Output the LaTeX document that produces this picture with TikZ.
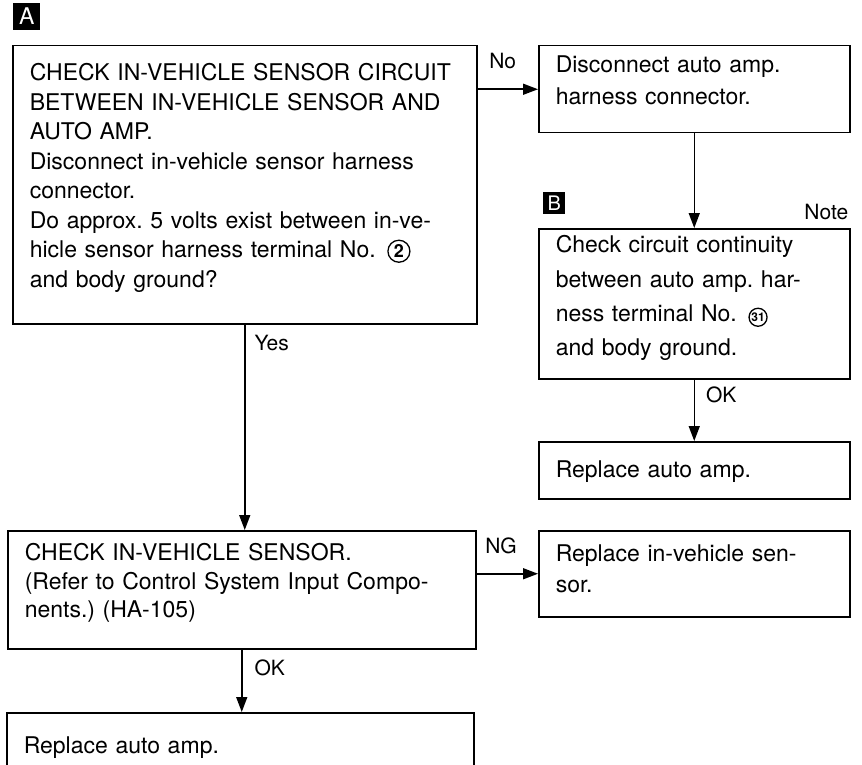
\documentclass[tikz,border=0pt]{standalone}
\usepackage{fontspec}
\setmainfont{TeX Gyre Heros}
\usepackage{tikz}
\usetikzlibrary{arrows.meta, positioning}
\frenchspacing
\newcommand{\circno}[3]{\tikz[baseline=(cn.base)]\node[draw, circle, line width=1.3pt, inner sep=0pt, anchor=center, text width=, text height=, text depth=, minimum size=#1pt, font=\bfseries\fontsize{#2}{#2}\selectfont] (cn) {#3};}

\begin{document}
\begin{tikzpicture}[x=1pt, y=-1pt,
  st/.style n args={4}{draw, line width=1.5pt, anchor=north west, align=left,
    inner xsep=17pt, inner ysep=0pt, text width=#1pt-34pt,
    text height=#3pt, text depth=#2pt-#3pt, font=\fontsize{23}{#4}\selectfont},
  lbl/.style={inner sep=2pt, font=\fontsize{21}{24}\selectfont},
  tag/.style={fill=black, text=white, inner sep=0pt, anchor=south west},
  arr/.style={-{Triangle[length=15pt, width=11pt]}, line width=1.5pt},
]
\useasboundingbox (0,0) rectangle (862,765);
\clip (0,0) rectangle (862,765);

\node[st={464}{278}{35}{29.5}] (chkckt) at (12,45) {CHECK IN-VEHICLE SENSOR CIRCUIT\\BETWEEN IN-VEHICLE SENSOR AND\\AUTO AMP.\\Disconnect in-vehicle sensor harness\\connector.\\Do approx. 5 volts exist between in-ve-\\hicle sensor harness terminal No.\ \,\circno{22}{18}{2}\\and body ground?};
\node[st={311}{87}{27}{31.7}] (discamp) at (538,45) {Disconnect auto amp.\\harness connector.};
\node[st={311}{150}{24}{34.4}] (contin) at (538,228) {Check circuit continuity\\between auto amp. har-\\ness terminal No.\ \,\circno{18}{12}{31}\\and body ground.};
\node[st={311}{57}{36}{30}] (repamp1) at (538,441) {Replace auto amp.};
\node[st={468}{118}{30}{28.3}] (chksens) at (7,530) {CHECK IN-VEHICLE SENSOR.\\(Refer to Control System Input Compo-\\nents.) (HA-105)};
\node[st={311}{86}{31}{31}] (repsens) at (538,530) {Replace in-vehicle sen-\\sor.};
\node[st={467}{72}{41}{30}] (repamp2) at (6,712) {Replace auto amp.};

\node[tag, minimum size=27pt, font=\fontsize{23}{23}\selectfont, above right=15pt and 1pt of chkckt.north west] (tagA) {A};
\node[tag, minimum size=22pt, font=\fontsize{20}{20}\selectfont, above right=14pt and 5pt of contin.north west] (tagB) {B};
\node[lbl, above left=6pt and 0pt of contin.north east] (note) {Note};

\draw[arr] (chkckt.east |- discamp.west) -- node[lbl, pos=0, anchor=south west, xshift=9pt, yshift=18pt] {No} (discamp.west);
\draw[arr] (discamp) -- (contin);
\draw[arr] (contin) -- node[lbl, pos=0, anchor=north west, xshift=9pt, yshift=-5pt] {OK} (repamp1);
\draw[arr] (chkckt.south) -- node[lbl, pos=0, anchor=north west, xshift=7pt, yshift=-8pt] {Yes} (chkckt.south |- chksens.north);
\draw[arr] (chksens.east |- repsens.west) -- node[lbl, pos=0, anchor=south west, xshift=6pt, yshift=17pt] {NG} (repsens.west);
\draw[arr] (chksens.south) -- node[lbl, pos=0, anchor=north west, xshift=10pt, yshift=-8pt] {OK} (chksens.south |- repamp2.north);
\end{tikzpicture}
\end{document}
